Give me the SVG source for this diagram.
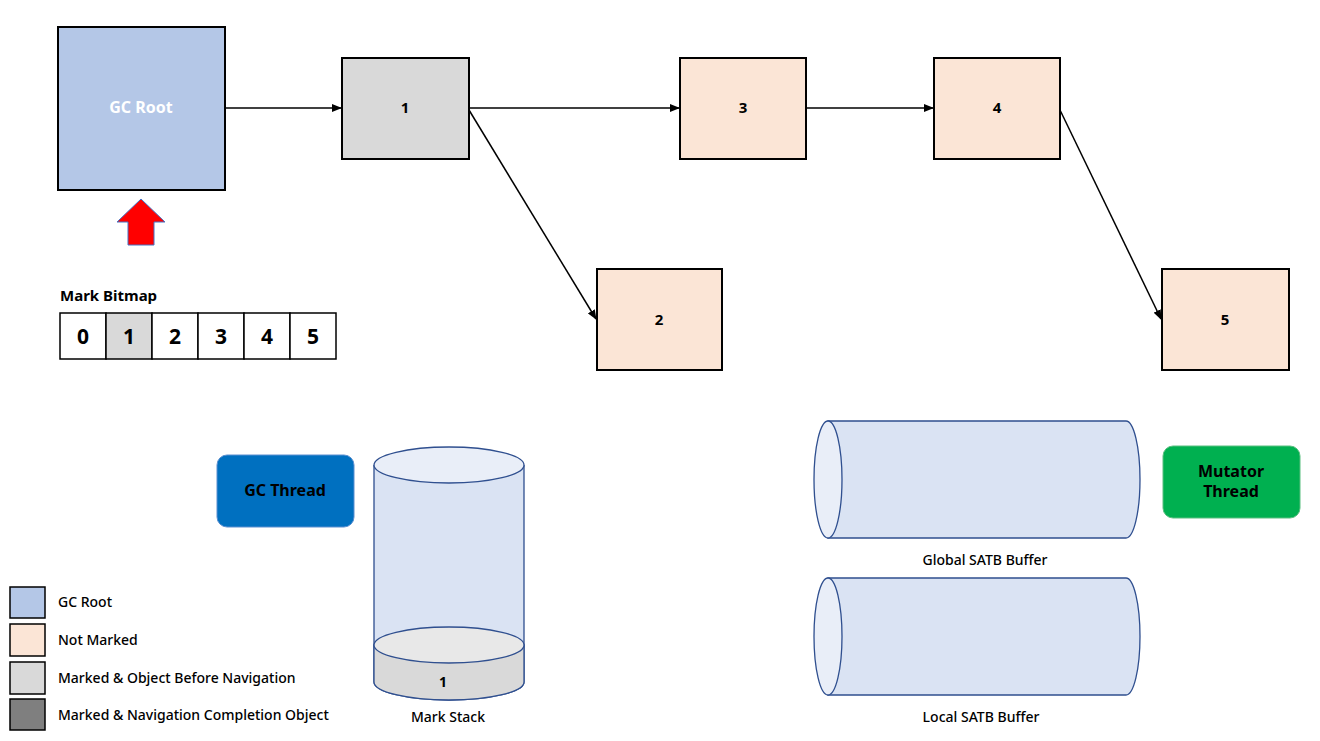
<svg xmlns="http://www.w3.org/2000/svg" width="1320" height="741" viewBox="0 0 1320 741">
<style>
text{font-family:"Noto Sans","Liberation Sans",sans-serif;font-weight:bold;text-anchor:middle;fill:#000}
.n{stroke:#000;stroke-width:2}
.c{stroke:#2F4F8F;stroke-width:1.3;fill:#DAE3F3}
.l{font-weight:500;text-anchor:start;font-size:14px}
.bm{fill:#fff;stroke:#000;stroke-width:1.5}
</style>
<defs><marker id="a" markerWidth="10" markerHeight="8" refX="9" refY="4" orient="auto" markerUnits="userSpaceOnUse"><path d="M0,0L10,4L0,8z" fill="#000"/></marker></defs>
<rect width="1320" height="741" fill="#fff"/>
<g id="connectors" stroke="#000" stroke-width="1.5" fill="none" marker-end="url(#a)">
<line x1="225" y1="108" x2="341" y2="108"/>
<line x1="469" y1="108" x2="679" y2="108"/>
<line x1="469" y1="110" x2="596" y2="319"/>
<line x1="806" y1="108" x2="933" y2="108"/>
<line x1="1060" y1="110" x2="1161" y2="319"/>
</g>
<g id="gcroot"><rect class="n" x="58" y="27" width="167" height="163" fill="#B4C7E7"/><text x="141" y="113" font-size="16" style="fill:#fff">GC Root</text></g>
<g id="n1"><rect class="n" x="342" y="58" width="127" height="101" fill="#D9D9D9"/><text x="405" y="113" font-size="15">1</text></g>
<g id="n3"><rect class="n" x="680" y="58" width="126" height="101" fill="#FBE5D6"/><text x="743" y="113" font-size="15">3</text></g>
<g id="n4"><rect class="n" x="934" y="58" width="126" height="101" fill="#FBE5D6"/><text x="997" y="113" font-size="15">4</text></g>
<g id="n2"><rect class="n" x="597" y="269" width="125" height="101" fill="#FBE5D6"/><text x="659" y="325" font-size="15">2</text></g>
<g id="n5"><rect class="n" x="1162" y="269" width="127" height="101" fill="#FBE5D6"/><text x="1225" y="325" font-size="15">5</text></g>
<g id="pointer"><path d="M141,199L165,222H154V245H128V222H117Z" fill="#F00" stroke="#4472C4" stroke-width="1"/></g>
<g id="bitmap">
<text x="60" y="301" font-size="15" style="text-anchor:start">Mark Bitmap</text>
<rect class="bm" x="60" y="313" width="46" height="46"/><rect class="bm" x="106" y="313" width="46" height="46" style="fill:#D9D9D9"/><rect class="bm" x="152" y="313" width="46" height="46"/><rect class="bm" x="198" y="313" width="46" height="46"/><rect class="bm" x="244" y="313" width="46" height="46"/><rect class="bm" x="290" y="313" width="46" height="46"/>
<g font-size="21"><text x="83" y="344">0</text><text x="129" y="344">1</text><text x="175" y="344">2</text><text x="221" y="344">3</text><text x="267" y="344">4</text><text x="313" y="344">5</text></g>
</g>
<g id="gcthread"><rect x="217" y="455" width="137" height="72" rx="10" fill="#0070C0" stroke="#5B8FD0"/><text x="285" y="496" font-size="16">GC Thread</text></g>
<g id="mutator"><rect x="1163" y="446" width="137" height="72" rx="10" fill="#00B050" stroke="#5BBF80"/><text x="1231" y="477" font-size="16">Mutator</text><text x="1231" y="497" font-size="16">Thread</text></g>
<g id="markstack">
<path class="c" d="M374,465V682A75,18 0 0 0 524,682V465"/>
<path d="M374,645V682A75,18 0 0 0 524,682V645Z" fill="#D9D9D9" stroke="#2F4F8F" stroke-width="1.3"/>
<ellipse cx="449" cy="645" rx="75" ry="18" fill="#E8E8E8" stroke="#2F4F8F" stroke-width="1.3"/>
<ellipse cx="449" cy="465" rx="75" ry="18" fill="#E9EEF8" stroke="#2F4F8F" stroke-width="1.3"/>
<text x="443" y="687" font-size="14">1</text>
<text x="448" y="722" font-size="14" style="font-weight:500">Mark Stack</text>
</g>
<g id="global">
<path class="c" d="M828,421H1126A14,58.5 0 0 1 1126,538H828Z"/>
<ellipse cx="828" cy="479.5" rx="14" ry="58.5" fill="#E9EEF8" stroke="#2F4F8F" stroke-width="1.3"/>
<text x="985" y="565" font-size="14" style="font-weight:500">Global SATB Buffer</text>
</g>
<g id="local">
<path class="c" d="M828,578H1126A14,58.5 0 0 1 1126,695H828Z"/>
<ellipse cx="828" cy="636.5" rx="14" ry="58.5" fill="#E9EEF8" stroke="#2F4F8F" stroke-width="1.3"/>
<text x="981" y="722" font-size="14" style="font-weight:500">Local SATB Buffer</text>
</g>
<g id="legend">
<rect x="10" y="587" width="35" height="31" fill="#B4C7E7" stroke="#000" stroke-width="1.5"/>
<rect x="10" y="624" width="35" height="32" fill="#FBE5D6" stroke="#000" stroke-width="1.5"/>
<rect x="10" y="662" width="35" height="32" fill="#D9D9D9" stroke="#000" stroke-width="1.5"/>
<rect x="10" y="699" width="35" height="31" fill="#7F7F7F" stroke="#000" stroke-width="1.5"/>
<text class="l" x="58" y="607">GC Root</text>
<text class="l" x="58" y="645">Not Marked</text>
<text class="l" x="58" y="683">Marked &amp; Object Before Navigation</text>
<text class="l" x="58" y="720">Marked &amp; Navigation Completion Object</text>
</g>
</svg>
